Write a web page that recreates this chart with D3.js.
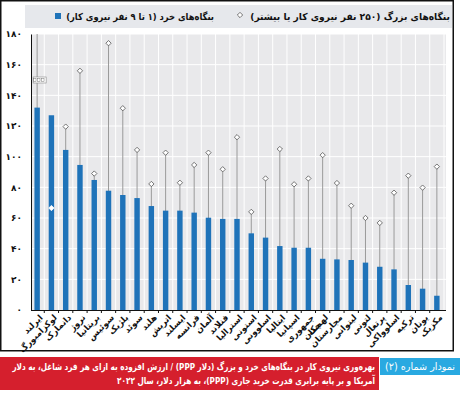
<!DOCTYPE html>
<html>
<head>
<meta charset="utf-8">
<script src="https://cdn.jsdelivr.net/npm/d3@7"></script>
<style>
  body { margin: 0; background: #fff; }
  svg { display: block; font-family: "DejaVu Sans", sans-serif; }
</style>
</head>
<body>
<div id="chart"></div>
<script>
// کشورها (از چپ به راست)
const countries = ["ایرلند", "لوکزامبورگ", "دانمارک", "نروژ", "بریتانیا", "سوئیس", "بلژیک", "سوئد", "هلند",
  "اتریش", "ایسلند", "فرانسه", "آلمان", "فنلاند", "استرالیا", "استونی", "اسلوونی", "ایتالیا", "اسپانیا",
  "جمهوری چک", "لهستان", "مجارستان", "لیتوانی", "لتونی", "پرتغال", "اسلوواکی", "ترکیه", "یونان", "مکزیک"];

// بنگاه‌های خرد (۱ تا ۹ نفر)
const smallFirms = [132, 127, 104.4, 94.6, 84.8, 77.8, 75, 73, 67.8,
  64.8, 64.8, 63.5, 60.2, 59.4, 59.4, 50, 47.2, 41.7, 40.6,
  40.6, 33.4, 33, 32.6, 30.9, 28.2, 26.5, 16.3, 13.9, 9.3];

// بنگاه‌های بزرگ (۲۵۰ نفر یا بیشتر) - ایرلند خارج از محدوده
const largeFirms = [250, 66.5, 119.6, 156, 89, 174, 131.6, 104.4, 82.2,
  102.6, 83, 94.6, 102.6, 91.8, 112.7, 64, 85.8, 105, 82,
  85.8, 101, 82.8, 68, 60, 56.8, 76.5, 87.6, 79.8, 93.5];

const yTicks = [0, 20, 40, 60, 80, 100, 120, 140, 160, 180];

const legendSmall = "بنگاه‌های خرد (۱ تا ۹ نفر نیروی کار)";
const legendLarge = "بنگاه‌های بزرگ (۲۵۰ نفر نیروی کار یا بیشتر)";
const chartNo = "نمودار شماره (۲)";
const titleLines = [
  "بهره‌وری نیروی کار در بنگاه‌های خرد و بزرگ (دلار PPP) / ارزش افزوده به ازای هر فرد شاغل، به دلار",
  "آمریکا و بر پایه برابری قدرت خرید جاری (PPP)، به هزار دلار، سال ۲۰۲۲"
];

const fa = s => String(s).replace(/\d/g, d => "۰۱۲۳۴۵۶۷۸۹"[d]);

const data = countries.map((c, i) => ({ name: c, small: smallFirms[i], large: largeFirms[i] }));

const W = 460, H = 394;
const blue = "#1f73b9";

const svg = d3.select("#chart").append("svg")
  .attr("width", W).attr("height", H);

// متن راست‌چین که به پهنای دلخواه فشرده می‌شود (با scale افقی)
function rtlText(parent, str, right, base, width, size, bold, color) {
  const g = parent.append("g");
  const t = g.append("text")
    .attr("x", 0).attr("y", 0)
    .attr("direction", "rtl").attr("text-anchor", "start")
    .style("font-size", size + "px")
    .style("font-weight", bold ? "bold" : "normal")
    .attr("fill", color)
    .text(str);
  const len = t.node().getComputedTextLength();
  const sx = len > 0 ? width / len : 1;
  g.attr("transform", `translate(${right},${base}) scale(${sx},1)`);
  return g;
}

// --- قاب بیرونی ---
svg.append("rect")
  .attr("x", 0.75).attr("y", 0.75)
  .attr("width", 452.5).attr("height", 350)
  .attr("fill", "#fff").attr("stroke", "#111").attr("stroke-width", 1.5);

// --- legend ---
svg.append("rect")
  .attr("x", 25).attr("y", 5).attr("width", 427).attr("height", 23)
  .attr("fill", "#e6e8ec");

rtlText(svg, legendLarge, 450, 20, 200, 9.5, true, "#111");

svg.append("path")
  .attr("d", d3.symbol().type(d3.symbolDiamond2).size(18)())
  .attr("transform", "translate(240,15)")
  .attr("fill", "#fff").attr("stroke", "#555").attr("stroke-width", 0.8);

rtlText(svg, legendSmall, 214, 20, 148, 9.5, true, "#111");

svg.append("rect")
  .attr("x", 55).attr("y", 13).attr("width", 6).attr("height", 6)
  .attr("fill", blue);

// --- chart setup ---
const plot = { left: 31, right: 446, top: 34, bottom: 310 };

const x = d3.scaleBand()
  .domain(countries)
  .range([30, 444])
  .paddingInner(0.62)
  .paddingOuter(0.31);

const y = d3.scaleLinear()
  .domain([0, 180])
  .range([plot.bottom, plot.top]);

const step = x.step();
const cx = d => x(d) + x.bandwidth() / 2;

// پس‌زمینه خاکستری
svg.append("rect")
  .attr("x", plot.left).attr("y", plot.top)
  .attr("width", plot.right - plot.left).attr("height", plot.bottom - plot.top)
  .attr("fill", "#e9e9eb");

// خطوط شبکه افقی
svg.append("g").selectAll("line")
  .data(yTicks.slice(1))
  .enter().append("line")
  .attr("x1", plot.left).attr("x2", plot.right)
  .attr("y1", d => y(d)).attr("y2", d => y(d))
  .attr("stroke", "#fff").attr("stroke-width", 1);

// خطوط شبکه عمودی (مرز دسته‌ها)
const bounds = countries.map(c => cx(c) + step / 2);
svg.append("g").selectAll("line")
  .data(bounds)
  .enter().append("line")
  .attr("x1", d => d).attr("x2", d => d)
  .attr("y1", plot.top).attr("y2", plot.bottom)
  .attr("stroke", "#fff").attr("stroke-width", 1);

// ساقه‌های بنگاه‌های بزرگ
svg.append("g").selectAll("line")
  .data(data)
  .enter().append("line")
  .attr("x1", d => cx(d.name)).attr("x2", d => cx(d.name))
  .attr("y1", y(0))
  .attr("y2", d => y(Math.min(d.large, 180)))
  .attr("stroke", "#9a9a9a").attr("stroke-width", 1);

// ستون‌ها
svg.append("g").selectAll("rect")
  .data(data)
  .enter().append("rect")
  .attr("x", d => x(d.name))
  .attr("y", d => y(d.small))
  .attr("width", x.bandwidth())
  .attr("height", d => y(0) - y(d.small))
  .attr("fill", blue);

// نشانگرهای بنگاه‌های بزرگ
svg.append("g").selectAll("path")
  .data(data.filter(d => d.large <= 180))
  .enter().append("path")
  .attr("d", d3.symbol().type(d3.symbolDiamond2).size(18)())
  .attr("transform", d => `translate(${cx(d.name)},${y(d.large)})`)
  .attr("fill", "#fff")
  .attr("stroke", d => d.large < d.small ? "#fff" : "#555")
  .attr("stroke-width", 0.8);

// نشان محور شکسته برای ایرلند
const brk = svg.append("g")
  .attr("transform", `translate(${cx(countries[0])},${y(150)})`);
brk.append("rect")
  .attr("x", -4).attr("y", -3).attr("width", 13).attr("height", 6)
  .attr("fill", "#fff").attr("stroke", "#888").attr("stroke-width", 0.6);
[-2.5, 1.5, 5.5].forEach(dx => {
  brk.append("rect")
    .attr("x", dx - 1.2).attr("y", -1.6).attr("width", 2.6).attr("height", 3.2)
    .attr("fill", "none").attr("stroke", "#777").attr("stroke-width", 0.5);
});

// محور Y
const gY = svg.append("g")
  .attr("transform", `translate(${plot.left},0)`)
  .call(d3.axisLeft(y).tickValues(yTicks).tickSize(0).tickPadding(9).tickFormat(fa));
gY.select(".domain").attr("stroke", "#111").attr("stroke-width", 1);
gY.selectAll("text")
  .style("font-size", "9px").style("font-weight", "bold")
  .style("font-family", "DejaVu Sans").attr("fill", "#111");

// محور X
const gX = svg.append("g")
  .attr("transform", `translate(0,${plot.bottom})`)
  .call(d3.axisBottom(x).tickSize(0).tickFormat(""));
gX.select(".domain").attr("d", `M${plot.left},0.5H${plot.right}`)
  .attr("stroke", "#111").attr("stroke-width", 1.2);

gX.selectAll(".tickmark")
  .data(bounds.slice(0, -1))
  .enter().append("line")
  .attr("class", "tickmark")
  .attr("x1", d => d).attr("x2", d => d)
  .attr("y1", 0).attr("y2", 3)
  .attr("stroke", "#111");

// برچسب کشورها (چرخش ۴۵ درجه) - هر خط یک text جدا
const labelRows = [];
data.forEach(d => {
  d.name.split(" ").forEach((p, i) => labelRows.push({ key: d.name, text: p, line: i }));
});
svg.append("g").selectAll("text")
  .data(labelRows)
  .enter().append("text")
  .attr("transform", d => `translate(${cx(d.key) + 4},${plot.bottom + 6}) rotate(-45) translate(0,${d.line * 10})`)
  .attr("dy", "0.35em")
  .attr("direction", "rtl")
  .attr("text-anchor", "start")
  .style("font-size", "8.5px").style("font-weight", "bold")
  .attr("fill", "#111")
  .text(d => d.text);

// --- عنوان ---
svg.append("rect")
  .attr("x", 0).attr("y", 357).attr("width", 379).attr("height", 33)
  .attr("fill", "#d51f2d");
svg.append("rect")
  .attr("x", 380).attr("y", 358).attr("width", 80).attr("height", 17)
  .attr("fill", "#29a9e1");
rtlText(svg, chartNo, 455, 370, 70, 10, false, "#fff");

const titleWidths = [363, 258];
titleLines.forEach((line, i) => {
  rtlText(svg, line, 375, 370 + i * 14, titleWidths[i], 9.5, true, "#fff");
});
</script>
</body>
</html>
